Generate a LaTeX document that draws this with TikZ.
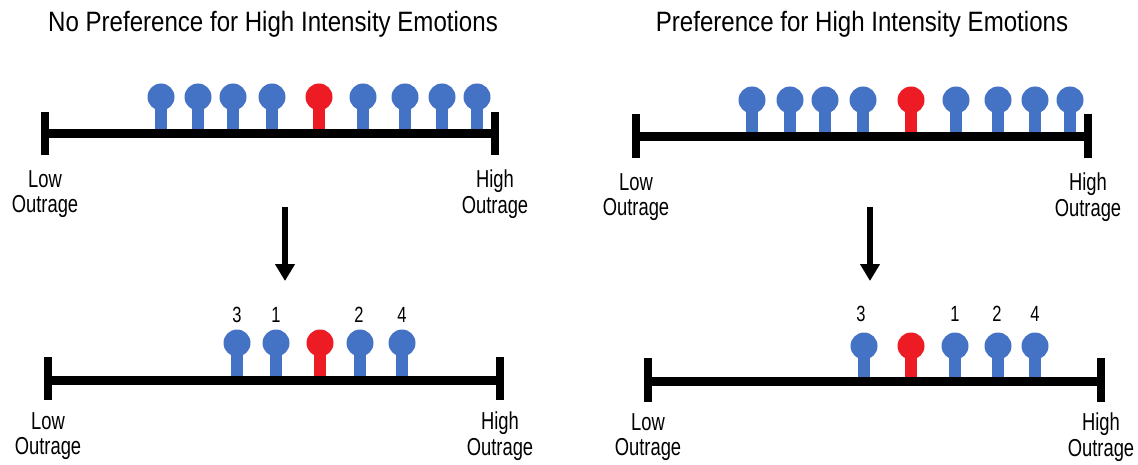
\documentclass[tikz,border=0pt]{standalone}
\usepackage{fontspec}
\setmainfont{Liberation Sans}[FakeStretch=0.75]
\newfontfamily\headfont{Liberation Sans}[FakeStretch=0.86]
\usetikzlibrary{arrows.meta}
\definecolor{pinblue}{RGB}{68,114,196}
\definecolor{pinred}{RGB}{237,28,36}
% one emotion marker: x, circle y, bar y, colour
\newcommand{\emopin}[4]{%
  \fill[#4] (#1-6,#3) rectangle (#1+6,#2);
  \fill[#4] (#1,#2) circle (13.5pt);
}
\tikzset{
  bar/.style={line width=9pt},
  tick/.style={line width=8pt},
  flow/.style={-{Triangle[width=19pt,length=17pt]}, line width=6pt},
  endlabel/.style={anchor=north, align=center, inner sep=0pt, font=\fontsize{24.5}{25.5}\selectfont},
  rank/.style={inner sep=0pt, font=\fontsize{22}{22}\selectfont},
  heading/.style={anchor=base, inner sep=0pt, font=\headfont\fontsize{28}{28}\selectfont}
}
\begin{document}
\begin{tikzpicture}[x=1pt, y=-1pt]
  \useasboundingbox (0,0) rectangle (1138,465);

  % Titles
  \node[heading] (head-no) at (273,32) {No Preference for High Intensity Emotions};
  \node[heading] (head-yes) at (862,32) {Preference for High Intensity Emotions};

  % Top left scale
  \coordinate (tl-lo) at (45,134);
  \coordinate (tl-hi) at (495,134);
  \foreach \x in {161,198,233,272,363,405,442,477}
    \emopin{\x}{97}{134}{pinblue};
  \emopin{319}{97}{134}{pinred}
  \draw[bar] (tl-lo) -- (tl-hi);
  \draw[tick] (tl-lo) ++(0,-22) -- ++(0,43);
  \draw[tick] (tl-hi) ++(0,-22) -- ++(0,43);
  \node[endlabel] (tl-low) at ([yshift=-36pt]tl-lo) {Low\\Outrage};
  \node[endlabel] (tl-high) at ([yshift=-36pt]tl-hi) {High\\Outrage};

  % Top right scale
  \coordinate (tr-lo) at (636,137);
  \coordinate (tr-hi) at (1088,137);
  \foreach \x in {752,790,825,863,956,998,1035,1070}
    \emopin{\x}{100}{137}{pinblue};
  \emopin{911}{100}{137}{pinred}
  \draw[bar] (tr-lo) -- (tr-hi);
  \draw[tick] (tr-lo) ++(0,-23) -- ++(0,44);
  \draw[tick] (tr-hi) ++(0,-23) -- ++(0,44);
  \node[endlabel] (tr-low) at ([yshift=-36pt]tr-lo) {Low\\Outrage};
  \node[endlabel] (tr-high) at ([yshift=-36pt]tr-hi) {High\\Outrage};

  % Arrows
  \coordinate (left-from) at (285,207);
  \coordinate (left-to) at (285,281);
  \coordinate (right-from) at (870,207);
  \coordinate (right-to) at (870,281);
  \draw[flow] (left-from) -- (left-to);
  \draw[flow] (right-from) -- (right-to);

  % Bottom left scale
  \coordinate (bl-lo) at (48,380);
  \coordinate (bl-hi) at (500,380);
  \foreach \x in {237,276,360,402}
    \emopin{\x}{343}{380}{pinblue};
  \emopin{320}{343}{380}{pinred}
  \draw[bar] (bl-lo) -- (bl-hi);
  \draw[tick] (bl-lo) ++(0,-23) -- ++(0,43);
  \draw[tick] (bl-hi) ++(0,-23) -- ++(0,43);
  \node[endlabel] (bl-low) at ([yshift=-32pt]bl-lo) {Low\\Outrage};
  \node[endlabel] (bl-high) at ([yshift=-32pt]bl-hi) {High\\Outrage};
  \node[rank] (bl-3) at (237,315) {3};
  \node[rank] (bl-1) at (276,315) {1};
  \node[rank] (bl-2) at (359,315) {2};
  \node[rank] (bl-4) at (402,315) {4};

  % Bottom right scale
  \coordinate (br-lo) at (648,381);
  \coordinate (br-hi) at (1101,381);
  \foreach \x in {864,955,998,1035}
    \emopin{\x}{346}{381}{pinblue};
  \emopin{911}{346}{381}{pinred}
  \draw[bar] (br-lo) -- (br-hi);
  \draw[tick] (br-lo) ++(0,-23) -- ++(0,44);
  \draw[tick] (br-hi) ++(0,-23) -- ++(0,44);
  \node[endlabel] (br-low) at ([yshift=-32pt]br-lo) {Low\\Outrage};
  \node[endlabel] (br-high) at ([yshift=-32pt]br-hi) {High\\Outrage};
  \node[rank] (br-3) at (861,314) {3};
  \node[rank] (br-1) at (955,314) {1};
  \node[rank] (br-2) at (997,314) {2};
  \node[rank] (br-4) at (1035,314) {4};

\end{tikzpicture}
\end{document}
